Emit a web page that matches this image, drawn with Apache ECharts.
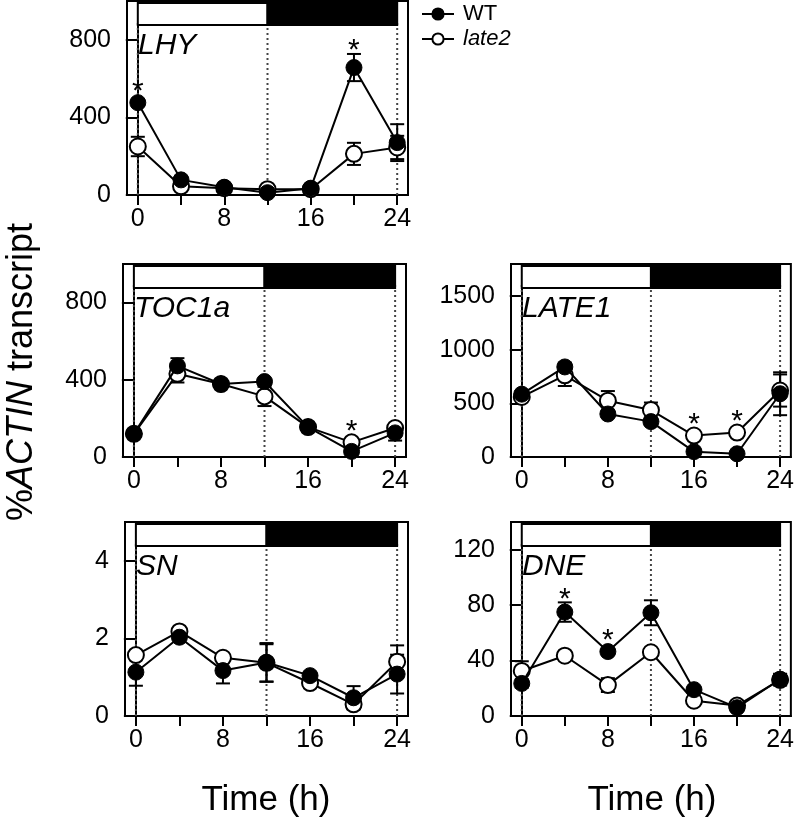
<!DOCTYPE html>
<html>
<head>
<meta charset="utf-8">
<script src="https://cdn.jsdelivr.net/npm/echarts@6.0.0/dist/echarts.min.js"></script>
<style>
html, body { margin: 0; padding: 0; background: #fff; }
#chart { width: 797px; height: 823px; }
</style>
</head>
<body>
<div id="chart"></div>
<script>
// time points (h) and the light / dark schedule
const hours = [0, 4, 8, 12, 16, 20, 24];
const xTicks = [0, 4, 8, 12, 16, 20, 24];
const xLabels = [0, 8, 16, 24];
const lightHours = [0, 12];
const darkHours = [12, 24];
const dotLines = [0, 12, 24];

// LHY
const lhyWT = [476, 78, 40, 12, 35, 657, 270];
const lhyWTErr = [15, 10, 8, 8, 10, 70, 95];
const lhyLate2 = [250, 45, 35, 30, 30, 212, 245];
const lhyLate2Err = [50, 10, 8, 8, 8, 57, 60];
const lhyStars = [0, 20];
const lhyTicks = [0, 400, 800];

// TOC1a
const tocWT = [120, 472, 378, 391, 155, 29, 125];
const tocWTErr = [10, 40, 15, 15, 10, 10, 40];
const tocLate2 = [120, 431, 378, 314, 155, 76, 150];
const tocLate2Err = [10, 45, 10, 50, 10, 15, 20];
const tocStars = [20];
const tocTicks = [0, 400, 800];

// LATE1
const lateWT = [586, 840, 401, 330, 50, 30, 590];
const lateWTErr = [30, 40, 30, 30, 20, 15, 200];
const lateLate2 = [560, 762, 525, 438, 200, 228, 620];
const lateLate2Err = [30, 100, 90, 70, 20, 20, 150];
const lateStars = [16, 20];
const lateTicks = [0, 500, 1000, 1500];

// SN
const snWT = [1.13, 2.03, 1.17, 1.38, 1.04, 0.47, 1.08];
const snWTErr = [0.35, 0.08, 0.33, 0.5, 0.08, 0.3, 0.5];
const snLate2 = [1.57, 2.18, 1.5, 1.37, 0.85, 0.3, 1.4];
const snLate2Err = [0.1, 0.05, 0.1, 0.48, 0.12, 0.12, 0.42];
const snStars = [];
const snTicks = [0, 2, 4];

// DNE
const dneWT = [23.5, 75, 46.5, 74.5, 19, 6, 26.5];
const dneWTErr = [3, 7, 2, 9, 2, 2, 4];
const dneLate2 = [32.5, 43.5, 22.3, 46, 11, 7.5, 26];
const dneLate2Err = [7, 2, 5, 2, 2, 2, 4];
const dneStars = [4, 8];
const dneTicks = [0, 40, 80, 120];

const FONT = 'Liberation Sans, Arial, sans-serif';

const panels = [
    { name: 'LHY', wt: lhyWT, wtErr: lhyWTErr, late: lhyLate2, lateErr: lhyLate2Err, stars: lhyStars, ticks: lhyTicks, max: 1000,
      grid: { left: 127, top: 1, width: 281, height: 194 } },
    { name: 'TOC1a', wt: tocWT, wtErr: tocWTErr, late: tocLate2, lateErr: tocLate2Err, stars: tocStars, ticks: tocTicks, max: 1000,
      grid: { left: 123, top: 264, width: 283, height: 193 } },
    { name: 'LATE1', wt: lateWT, wtErr: lateWTErr, late: lateLate2, lateErr: lateLate2Err, stars: lateStars, ticks: lateTicks, max: 1800,
      grid: { left: 511, top: 264, width: 283, height: 193 } },
    { name: 'SN', wt: snWT, wtErr: snWTErr, late: snLate2, lateErr: snLate2Err, stars: snStars, ticks: snTicks, max: 5,
      grid: { left: 125, top: 522, width: 283, height: 194 } },
    { name: 'DNE', wt: dneWT, wtErr: dneWTErr, late: dneLate2, lateErr: dneLate2Err, stars: dneStars, ticks: dneTicks, max: 140,
      grid: { left: 511, top: 522, width: 283, height: 194 } }
]

const chart = echarts.init(document.getElementById('chart'))

function errRender(params, api) {
    const x = api.value(0)
    const lo = api.coord([x, api.value(1)])
    const hi = api.coord([x, api.value(2)])
    const w = 7
    const st = { stroke: '#000', lineWidth: 2 }
    return {
        type: 'group',
        children: [
            { type: 'line', shape: { x1: lo[0], y1: lo[1], x2: hi[0], y2: hi[1] }, style: st },
            { type: 'line', shape: { x1: hi[0] - w, y1: hi[1], x2: hi[0] + w, y2: hi[1] }, style: st },
            { type: 'line', shape: { x1: lo[0] - w, y1: lo[1], x2: lo[0] + w, y2: lo[1] }, style: st }
        ]
    }
}

function frameRender(params, api) {
    const cs = params.coordSys
    const children = []
    dotLines.forEach(h => {
        const x = api.coord([h, 0])[0]
        children.push({
            type: 'line',
            shape: { x1: x, y1: cs.y + cs.height, x2: x, y2: cs.y + 20 },
            style: { stroke: '#444', lineWidth: 2, lineDash: [2, 3] }
        })
    })
    const l0 = api.coord([lightHours[0], 0])[0], l1 = api.coord([lightHours[1], 0])[0]
    const d0 = api.coord([darkHours[0], 0])[0], d1 = api.coord([darkHours[1], 0])[0]
    children.push({ type: 'rect', shape: { x: l0, y: cs.y + 2, width: l1 - l0, height: 22 }, style: { fill: '#fff', stroke: '#000', lineWidth: 2 } })
    children.push({ type: 'rect', shape: { x: d0, y: cs.y + 2, width: d1 - d0, height: 22 }, style: { fill: '#000', stroke: '#000', lineWidth: 2 } })
    return { type: 'group', children }
}

function starRender(params, api) {
    const x = api.value(0)
    const hi = api.coord([x, api.value(1)])[1]
    const mid = api.coord([x, api.value(2)])[1] - 8
    const y = Math.min(hi, mid)
    return {
        type: 'text',
        x: api.coord([x, 0])[0],
        y: y + 12,
        style: { text: '*', fontSize: 30, fontFamily: FONT, fill: '#000', align: 'center', verticalAlign: 'bottom' }
    }
}

const grids = [], xAxes = [], yAxes = [], series = [], titles = []

panels.forEach((p, i) => {
    grids.push(Object.assign({ show: true, borderColor: '#000', borderWidth: 2, backgroundColor: 'transparent' }, p.grid))
    xAxes.push({
        gridIndex: i, type: 'value', min: -1, max: 25,
        axisLine: { show: true, onZero: false, lineStyle: { color: '#000', width: 2 } },
        axisTick: { show: true, customValues: xTicks, length: 10, lineStyle: { color: '#000', width: 2 } },
        axisLabel: { customValues: xLabels, color: '#000', fontSize: 25, fontFamily: FONT, margin: 12 },
        splitLine: { show: false }
    })
    yAxes.push({
        gridIndex: i, type: 'value', min: 0, max: p.max,
        axisLine: { show: true, lineStyle: { color: '#000', width: 2 } },
        axisTick: { show: true, customValues: p.ticks, length: 12, lineStyle: { color: '#000', width: 2 } },
        axisLabel: { customValues: p.ticks, color: '#000', fontSize: 25, fontFamily: FONT, margin: 16, formatter: v => String(v) },
        splitLine: { show: false }
    })
    titles.push({
        text: p.name, left: p.grid.left + 11, top: p.grid.top + 30, padding: 0,
        textStyle: { fontSize: 30, fontStyle: 'italic', fontWeight: 'normal', color: '#000', fontFamily: FONT }
    })
    const ax = { xAxisIndex: i, yAxisIndex: i }
    series.push({ type: 'custom', ...ax, silent: true, z: 1, data: [[0, 0]], renderItem: frameRender })
    series.push({
        type: 'custom', ...ax, silent: true, z: 2, renderItem: errRender,
        data: hours.map((h, k) => [h, p.late[k] - p.lateErr[k], p.late[k] + p.lateErr[k]])
    })
    series.push({
        type: 'custom', ...ax, silent: true, z: 2, renderItem: errRender,
        data: hours.map((h, k) => [h, p.wt[k] - p.wtErr[k], p.wt[k] + p.wtErr[k]])
    })
    series.push({
        name: 'late2', type: 'line', ...ax, z: 3, clip: false,
        data: hours.map((h, k) => [h, p.late[k]]),
        symbol: 'circle', symbolSize: 16,
        lineStyle: { color: '#000', width: 2 },
        itemStyle: { color: '#fff', borderColor: '#000', borderWidth: 2 }
    })
    series.push({
        name: 'WT', type: 'line', ...ax, z: 4, clip: false,
        data: hours.map((h, k) => [h, p.wt[k]]),
        symbol: 'circle', symbolSize: 16,
        lineStyle: { color: '#000', width: 2 },
        itemStyle: { color: '#000', borderColor: '#000', borderWidth: 1 }
    })
    series.push({
        type: 'custom', ...ax, silent: true, z: 5, renderItem: starRender,
        data: p.stars.map(h => {
            const k = hours.indexOf(h)
            const top = Math.max(p.wt[k] + p.wtErr[k], p.late[k] + p.lateErr[k])
            const mean = Math.max(p.wt[k], p.late[k])
            return [h, top, mean]
        })
    })
})

const option = {
    animation: false,
    backgroundColor: '#fff',
    title: titles,
    legend: {
        data: ['WT', 'late2'],
        orient: 'vertical', left: 421, top: 3, itemGap: 3, padding: 0,
        itemWidth: 32, itemHeight: 14,
        textStyle: {
            fontSize: 22, fontFamily: FONT, color: '#000', padding: [0, 0, 0, 4],
            rich: { i: { fontSize: 22, fontStyle: 'italic', fontFamily: FONT, color: '#000' } }
        },
        formatter: name => name === 'late2' ? '{i|late2}' : name
    },
    grid: grids,
    xAxis: xAxes,
    yAxis: yAxes,
    series: series,
    graphic: [
        {
            type: 'text', x: 22, y: 372, rotation: Math.PI / 2,
            style: {
                text: '{a|%}{b|ACTIN}{a| transcript}',
                align: 'center', verticalAlign: 'middle',
                rich: {
                    a: { fontSize: 36, fontFamily: FONT, fill: '#000' },
                    b: { fontSize: 36, fontFamily: FONT, fontStyle: 'italic', fill: '#000' }
                }
            }
        },
        { type: 'text', x: 266, y: 800, style: { text: 'Time (h)', fontSize: 35, fontFamily: FONT, fill: '#000', align: 'center', verticalAlign: 'middle' } },
        { type: 'text', x: 652, y: 800, style: { text: 'Time (h)', fontSize: 35, fontFamily: FONT, fill: '#000', align: 'center', verticalAlign: 'middle' } }
    ]
}

chart.setOption(option)
</script>
</body>
</html>
